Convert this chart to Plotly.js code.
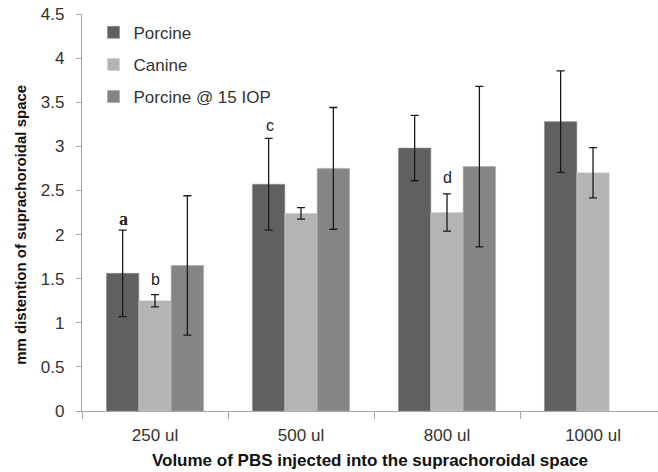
<!DOCTYPE html>
<html><head><meta charset="utf-8">
<script src="https://cdn.plot.ly/plotly-3.0.1.min.js"></script>
<style>html,body{margin:0;padding:0;background:#fff}#chart{width:658px;height:472px}</style>
</head><body><div id="chart"></div>
<script>
const categories = ["250 ul", "500 ul", "800 ul", "1000 ul"];
const porcine = [1.56, 2.57, 2.98, 3.28];
const porcineErr = [0.49, 0.52, 0.37, 0.575];
const canine = [1.25, 2.24, 2.25, 2.70];
const canineErr = [0.07, 0.065, 0.21, 0.285];
const porcine15 = [1.65, 2.75, 2.77, null];
const porcine15Err = [0.79, 0.69, 0.91, null];
const letters = ["a", "b", "c", "d"];
const letterCat = ["250 ul", "250 ul", "500 ul", "800 ul"];
const letterY = [2.18, 1.49, 3.24, 2.65];
const letterShift = [-32, 0, -31, 0];
const yTitle = "mm distention of suprachoroidal space";

const errStyle = (arr) => ({type: 'data', array: arr, visible: true, color: '#1a1a1a', thickness: 1.3, width: 4});
const traces = [
  {type:'bar', name:'Porcine', x:categories, y:porcine, error_y:errStyle(porcineErr), marker:{color:'#606060', line:{color:'#8a8a8a', width:0.6}}, legendgroup:'g1'},
  {type:'bar', name:'Canine', x:categories, y:canine, error_y:errStyle(canineErr), marker:{color:'#b4b4b4', line:{color:'#d0d0d0', width:0.6}}, legendgroup:'g2'},
  {type:'bar', name:'Porcine @ 15 IOP', x:categories, y:porcine15, error_y:errStyle(porcine15Err), marker:{color:'#858585', line:{color:'#a8a8a8', width:0.6}}, legendgroup:'g3'}
];

const catIndex = (c) => categories.indexOf(c);
const annotations = letters.map((t, i) => ({
  x: catIndex(letterCat[i]), y: letterY[i], xref:'x', yref:'y', text: i === 0 ? '<b>a</b>' : t, showarrow:false,
  xshift: letterShift[i],
  font: {family: i === 0 ? 'Liberation Serif, Times New Roman, serif' : 'Liberation Sans, Arial, sans-serif', size: i === 0 ? 18 : 16, color:'#222'},
  yanchor:'middle'
}));
annotations.push({
  text: '<b>' + yTitle + '</b>', textangle: -90, showarrow: false,
  xref: 'paper', yref: 'paper', x: -0.107, y: 0.5, xanchor: 'center', yanchor: 'middle', yshift: -12,
  font: {size: 15, color: '#111'}
});

const layout = {
  width: 658, height: 472,
  margin: {l: 82, r: 0, t: 14, b: 61, pad: 0},
  paper_bgcolor: '#fff', plot_bgcolor: '#fff',
  font: {family: 'Liberation Sans, Arial, sans-serif', color: '#333'},
  barmode: 'group', bargap: 0.335, bargroupgap: 0,
  showlegend: true,
  legend: {x: 0.02, y: 0.998, xanchor: 'left', yanchor: 'top', bgcolor: 'rgba(0,0,0,0)',
    font: {size: 17, color: '#333'}, traceorder: 'grouped', tracegroupgap: 7},
  xaxis: {
    type: 'category', range: [-0.5, 3.445], showgrid: false, zeroline: false,
    showline: true, linecolor: '#a6a6a6', linewidth: 1.2,
    ticks: 'outside', tickson: 'boundaries', ticklen: 7, tickcolor: '#a6a6a6',
    ticklabelstandoff: 8,
    tickfont: {size: 17, color: '#333'},
    title: {text: '<b>Volume of PBS injected into the suprachoroidal space</b>', font: {size: 17, color: '#111'}, standoff: 10}
  },
  yaxis: {
    range: [0, 4.5], dtick: 0.5, tick0: 0, showgrid: false, zeroline: false,
    showline: true, linecolor: '#a6a6a6', linewidth: 1.2,
    ticks: 'outside', ticklen: 5, tickcolor: '#a6a6a6',
    ticklabelstandoff: 8,
    tickfont: {size: 17, color: '#333'}
  },
  annotations: annotations
};
Plotly.newPlot('chart', traces, layout, {displayModeBar: false, staticPlot: true});
</script>
</body></html>
